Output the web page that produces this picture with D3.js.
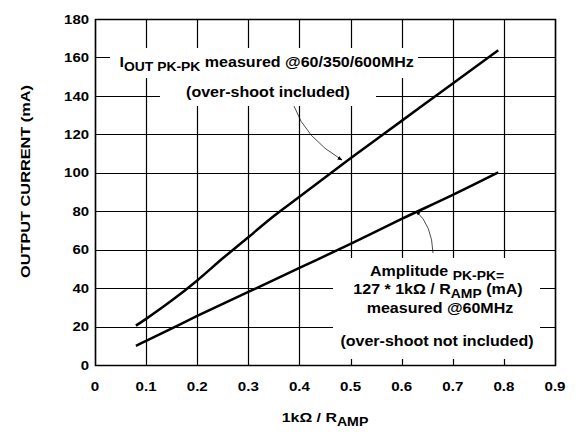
<!DOCTYPE html>
<html><head><meta charset="utf-8">
<script src="https://cdn.jsdelivr.net/npm/d3@7"></script>
<style>body{margin:0;background:#fff}svg{display:block}text{font-family:"Liberation Sans",Arial,sans-serif;font-weight:bold;fill:#000}</style>
</head><body>
<script>
const xTicks = [0,0.1,0.2,0.3,0.4,0.5,0.6,0.7,0.8,0.9];
const yTicks = [0,20,40,60,80,100,120,140,160,180];
const upperX = [0.08,0.1,0.15,0.2,0.25,0.3,0.35,0.4,0.5,0.6,0.7,0.789];
const upperY = [20.5,24,33.5,44,55.5,66.5,77.5,87.5,107.5,127,146.5,163.7];
const lowerX = [0.08,0.1,0.2,0.3,0.4,0.5,0.6,0.7,0.789];
const lowerY = [10,12.5,25.5,38,50.5,63,76,88.5,100.2];

const W=582,H=435;
const svg=d3.select("body").append("svg").attr("width",W).attr("height",H);
const x=d3.scaleLinear().domain([0,0.9]).range([95,555]);
const y=d3.scaleLinear().domain([0,180]).range([365,19]);

// helper: horizontally stretched text
function stext(px,py,sx,size,anchor,rot){
  const g=svg.append("g").attr("transform",`translate(${px},${py})`+(rot?` rotate(${rot})`:"")+` scale(${sx},1)`);
  return g.append("text").attr("font-size",size).attr("text-anchor",anchor||"start");
}

const g=svg.append("g");
g.selectAll(".vg").data(xTicks).enter().append("line")
 .attr("x1",d=>Math.round(x(d))+0.5).attr("x2",d=>Math.round(x(d))+0.5)
 .attr("y1",y(0)).attr("y2",y(180)).attr("stroke","#000").attr("stroke-width",1.2);
g.selectAll(".hg").data(yTicks).enter().append("line")
 .attr("y1",d=>Math.round(y(d))+0.5).attr("y2",d=>Math.round(y(d))+0.5)
 .attr("x1",x(0)).attr("x2",x(0.9)).attr("stroke","#000").attr("stroke-width",1.2);
svg.append("rect").attr("x",x(0)+0.5).attr("y",y(180)+0.5).attr("width",x(0.9)-x(0)).attr("height",y(0)-y(180))
 .attr("fill","none").attr("stroke","#000").attr("stroke-width",1.5);

// tick labels
yTicks.forEach(d=>stext(89,y(d)+4.7,1.15,13,"end").text(d));
xTicks.forEach(d=>stext(x(d),391,1.12,13.5,"middle").text(d));

// axis titles
stext(29.5,181.5,1.21,13.5,"middle",-90).text("OUTPUT CURRENT (mA)");
const xt=stext(325,422,1.18,13.5,"middle");
xt.append("tspan").text("1k\u03A9 / R");
xt.append("tspan").attr("dy",3.5).attr("font-size",12).text("AMP");

// white annotation boxes
const boxes=[[110,48,308,30],[160,78,216,28],[333,258,207,101]];
svg.selectAll(".bx").data(boxes).enter().append("rect")
 .attr("x",d=>d[0]).attr("y",d=>d[1]).attr("width",d=>d[2]).attr("height",d=>d[3]).attr("fill","#fff");

// upper annotation
const FS=15, SX=1.07;
const t1=stext(119.5,66.5,SX,FS,"start");
t1.append("tspan").text("I");
t1.append("tspan").attr("dy",4).attr("font-size",13).text("OUT PK-PK");
t1.append("tspan").attr("dy",-4).text(" measured @60/350/600MHz");
stext(268,97,SX,FS,"middle").text("(over-shoot included)");

// lower annotation
const t2=stext(437,275.5,SX,FS,"middle");
t2.append("tspan").text("Amplitude ");
t2.append("tspan").attr("dy",4).attr("font-size",13).text("PK-PK=");
const t3=stext(438,293.5,SX,FS,"middle");
t3.append("tspan").text("127 * 1k\u03A9 / R");
t3.append("tspan").attr("dy",4).attr("font-size",13).text("AMP");
t3.append("tspan").attr("dy",-4).text(" (mA)");
stext(440,312.5,SX,FS,"middle").text("measured @60MHz");
stext(437,346,SX,FS,"middle").text("(over-shoot not included)");

// data lines
const line=d3.line().x(d=>x(d[0])).y(d=>y(d[1])).curve(d3.curveCatmullRom.alpha(0.5));
svg.append("path").datum(d3.zip(upperX,upperY)).attr("d",line).attr("fill","none").attr("stroke","#000").attr("stroke-width",2.5);
svg.append("path").datum(d3.zip(lowerX,lowerY)).attr("d",line).attr("fill","none").attr("stroke","#000").attr("stroke-width",2.5);

// arrows
svg.append("defs").append("marker").attr("id","ah").attr("viewBox","0 0 10 10").attr("refX",9).attr("refY",5)
 .attr("markerWidth",7).attr("markerHeight",7).attr("orient","auto-start-reverse")
 .append("path").attr("d","M0,1L10,5L0,9z").attr("fill","#000");
svg.append("path").attr("d","M294,106 Q305,138 342,160").attr("fill","none").attr("stroke","#000").attr("stroke-width",0.7).attr("marker-end","url(#ah)");
svg.append("path").attr("d","M433,253 Q432,225 416,211").attr("fill","none").attr("stroke","#000").attr("stroke-width",0.7).attr("marker-end","url(#ah)");
</script>
</body></html>
